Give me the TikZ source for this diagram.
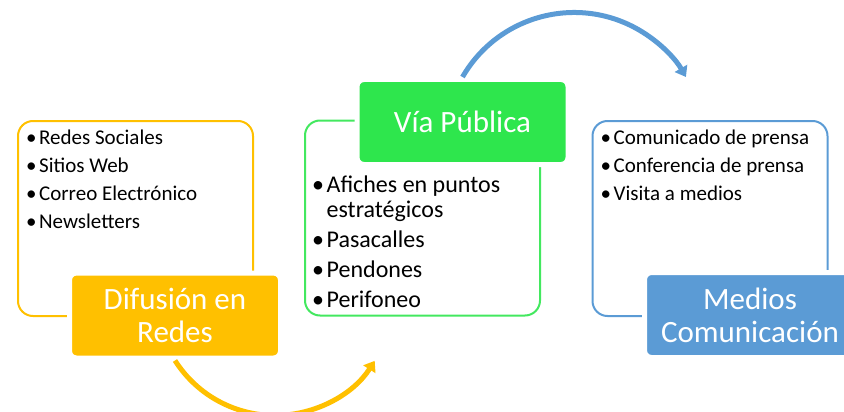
\documentclass[tikz,border=0pt]{standalone}
\usepackage{fontspec}
\setmainfont{Carlito}
\usepackage{tikz}
\usetikzlibrary{arrows.meta, positioning, calc}
\definecolor{redesgold}{HTML}{FFC000}
\definecolor{viagreen}{HTML}{2EE64D}
\definecolor{mediosblue}{HTML}{5B9BD5}
\newcommand{\bul}{•\hspace{2.5pt}}

\begin{document}
\begin{tikzpicture}[x=1pt, y=1pt,
  listbox/.style={draw, line width=2pt, rounded corners=15pt, minimum width=235pt, minimum height=195pt, inner sep=0pt},
  titlebox/.style={draw=white, line width=5pt, rounded corners=7pt, minimum width=211pt, minimum height=85pt, text=white, align=center, inner sep=0pt, font=\fontsize{31}{33}\selectfont},
  items/.style={anchor=north west, align=left, inner sep=0pt, font=\fontsize{21}{28}\selectfont},
  flow/.style={line width=5pt, -{Triangle[width=14pt,length=10pt]}}
]
  \useasboundingbox (0,0) rectangle (844,-412);

  % Outline boxes
  \node[listbox, draw=redesgold] (redesbox) at (135.5,-218.5) {};
  \node[listbox, draw=viagreen!90!white] (viabox) at (422.5,-218) {};
  \node[listbox, draw=mediosblue] (mediosbox) at (710,-218.5) {};

  % Item lists
  \node[items] (redeslist) at ($(redesbox.north west)+(9,-10)$)
    {\bul Redes Sociales\\\bul Sitios Web\\\bul Correo Electrónico\\\bul Newsletters};
  \node[items, font=\fontsize{24}{25}\selectfont] (vialist) at ($(viabox.north west)+(8,-56)$)
    {\bul Afiches en puntos\\\phantom{\bul}estratégicos\\[5pt]\bul Pasacalles\\[5pt]\bul Pendones\\[5pt]\bul Perifoneo};
  \node[items] (medioslist) at ($(mediosbox.north west)+(9,-10)$)
    {\bul Comunicado de prensa\\\bul Conferencia de prensa\\\bul Visita a medios};

  % Titles
  \node[titlebox, fill=redesgold] (redes) at (175,-315.5) {Difusión en\\Redes};
  \node[titlebox, fill=viagreen] (via) at (462.5,-122) {Vía Pública};
  \node[titlebox, fill=mediosblue] (medios) at (750,-315) {Medios\\Comunicación};

  % Arrows
  \draw[flow, redesgold] (redes.south) arc[start angle=212.4, end angle=327.4, radius=118.4];
  \draw[flow, mediosblue] (via.north) arc[start angle=150, end angle=30, radius=129];
\end{tikzpicture}
\end{document}
